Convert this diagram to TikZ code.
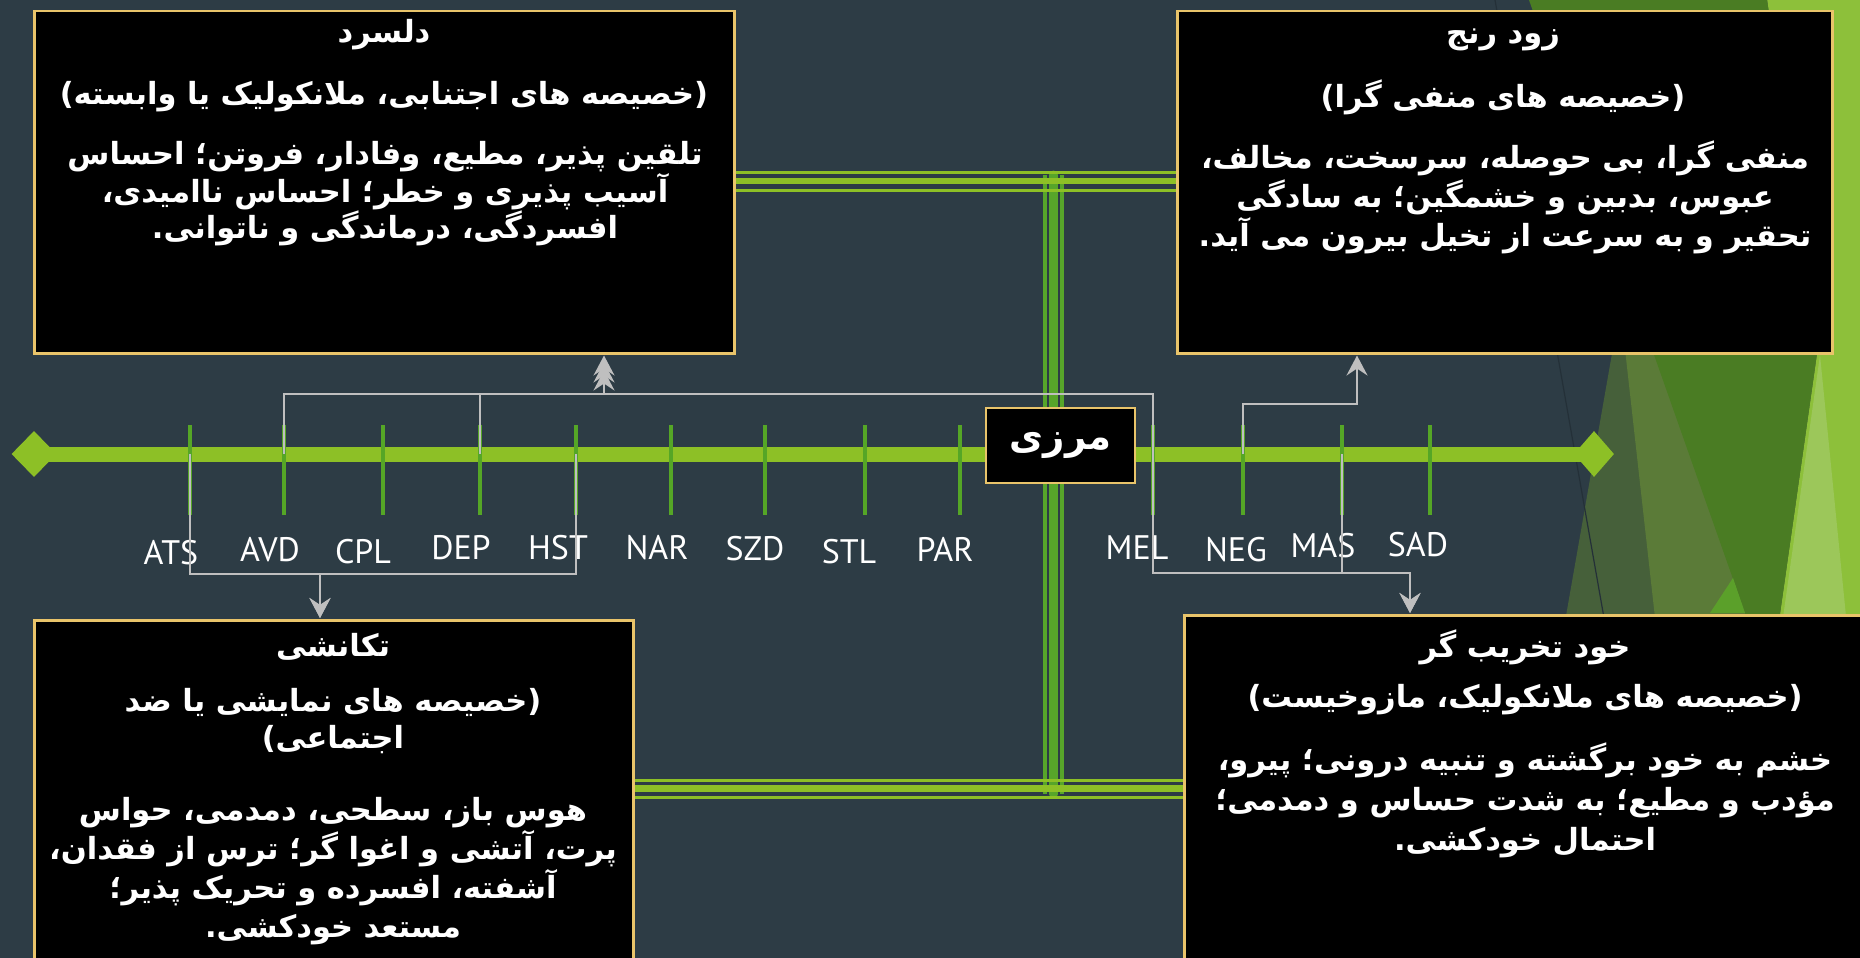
\documentclass[tikz,border=0pt]{standalone}
\usepackage{fontspec}
\TeXXeTstate=1
\newfontfamily\fa[Script=Arabic]{DejaVu Sans}
\newfontfamily\labfont{PT Sans}
\usetikzlibrary{arrows.meta,calc,shapes.geometric}
\newcommand{\myrl}[1]{\beginR #1\endR}
\definecolor{bgc}{HTML}{2D3C45}
\definecolor{axisg}{HTML}{8DC026}
\definecolor{tickg}{HTML}{55A626}
\definecolor{vertg}{HTML}{57A52A}
\definecolor{goldc}{HTML}{E9C46A}
\definecolor{conng}{HTML}{BFBFBF}
\definecolor{facDO}{HTML}{46603A}
\definecolor{facO}{HTML}{5B7B38}
\definecolor{facDG}{HTML}{4A7C23}
\definecolor{facLG}{HTML}{8DC03A}
\definecolor{facPG}{HTML}{9CC75A}
\definecolor{facBG}{HTML}{5BA02A}
\definecolor{facLine}{HTML}{243038}
\begin{document}
\begin{tikzpicture}[x=1pt,y=-1pt,
  box/.style={draw=goldc, line width=2.5pt, fill=black, inner sep=0pt, anchor=north west},
  ptxt/.style={text=white, align=center, inner sep=0pt, font=\fa\bfseries\fontsize{30.5}{37}\selectfont},
  lab/.style={text=white, inner sep=0pt, font=\labfont\fontsize{34}{40}\selectfont},
  tickline/.style={draw=tickg, line width=4pt},
  conn/.style={draw=conng, line width=2.5pt},
  arr/.style={-{Stealth[length=20pt,width=21pt,inset=7pt]}},
  thin/.style={draw=axisg, line width=3pt},
  thick/.style={draw=axisg, line width=6.5pt},
  vthin/.style={draw=vertg, line width=3.5pt},
  vthick/.style={draw=vertg, line width=9pt, line cap=round}
]
\useasboundingbox (0,0) rectangle (1860,958);
\fill[bgc] (0,0) rectangle (1860,958);
% facets
\fill[facLG] (1750,0) -- (1860,0) -- (1860,958) -- (1700,958) -- cycle;
\fill[facPG] (1820,355) -- (1735,958) -- (1880,958) -- cycle;
\fill[facDO] (1674,0) -- (1767,0) -- (1817,353) -- (1780,613) -- (1760,958) -- (1506,958) -- cycle;
\fill[facO] (1586,0) -- (1767,0) -- (1817,353) -- (1780,613) -- (1760,958) -- (1693,958) -- cycle;
\fill[facDG] (1529,0) -- (1767,0) -- (1817,353) -- (1770,684) -- cycle;
\fill[facBG] (1710,613) -- (1733,578) -- (1745,613) -- cycle;
\draw[facLine, line width=1.2pt] (1495,0) -- (1664,958);

% boxes
\node[box, minimum width=700, minimum height=342] (tl) at (33,10) {};
\node[box, minimum width=655, minimum height=342] (tr) at (1176,10) {};
\node[box, minimum width=599, minimum height=345] (bl) at (33,619) {};
\node[box, minimum width=690, minimum height=350] (br) at (1183,614) {};

% triple green connectors
\draw[vthin] (1045,175) -- (1045,794);
\draw[vthin] (1062,175) -- (1062,794);
\draw[vthick] (1053.5,175) -- (1053.5,794);
\draw[thin] (tl.east |- 0,172.5) -- (tr.west |- 0,172.5);
\draw[thick] (tl.east |- 0,181) -- (tr.west |- 0,181);
\draw[thin] (tl.east |- 0,190) -- (tr.west |- 0,190);
\draw[thin] (bl.east |- 0,780) -- (br.west |- 0,780);
\draw[thick] (bl.east |- 0,788.5) -- (br.west |- 0,788.5);
\draw[thin] (bl.east |- 0,797) -- (br.west |- 0,797);

% axis
\node[diamond, fill=axisg, minimum width=45, minimum height=46, inner sep=0pt] (ldia) at (34,454) {};
\node[diamond, fill=axisg, minimum width=40, minimum height=46, inner sep=0pt] (rdia) at (1594,454) {};
\draw[draw=axisg, line width=15pt] (ldia.center) -- (rdia.center);

% ticks
\foreach \n/\x in {ATS/190,AVD/284,CPL/383,DEP/480,HST/576,NAR/671,SZD/765,STL/865,PAR/960,MEL/1153,NEG/1243,MAS/1342,SAD/1430}{
  \coordinate (t\n) at (\x,454);
  \draw[tickline] ($(t\n)+(0,-29)$) -- ($(t\n)+(0,61)$);
}

% labels
\node[lab] (lATS) at (171,553) {ATS};
\node[lab] (lAVD) at (270,550) {AVD};
\node[lab] (lCPL) at (363,552) {CPL};
\node[lab] (lDEP) at (461,548) {DEP};
\node[lab] (lHST) at (558,548) {HST};
\node[lab] (lNAR) at (657,548) {NAR};
\node[lab] (lSZD) at (755,549) {SZD};
\node[lab] (lSTL) at (849,552) {STL};
\node[lab] (lPAR) at (945,549) {PAR};
\node[lab] (lMEL) at (1137,548) {MEL};
\node[lab] (lNEG) at (1236,550) {NEG};
\node[lab] (lMAS) at (1323,546) {MAS};
\node[lab] (lSAD) at (1418,545) {SAD};

% centre box
\node[box, anchor=center, minimum width=149, minimum height=75, text=white, font=\fa\bfseries\fontsize{37}{40}\selectfont] (mid) at (1060.5,445.5) {\myrl{مرزی}};

% grey connectors
\coordinate (jTL) at (604,394);
\coordinate (jBL) at (320,574);
\coordinate (jTR) at (1357,404);
\coordinate (jBR) at (1410,573);
\draw[conn, arr, shorten >=16pt] (tAVD) |- (jTL) -- (jTL |- tl.south);
\draw[conn, arr, shorten >=8pt] (tDEP) |- (jTL) -- (jTL |- tl.south);
\draw[conn, arr, shorten >=1pt] (tMEL) |- (jTL) -- (jTL |- tl.south);
\draw[conn, arr, shorten >=1pt] (tATS) |- (jBL) -- (jBL |- bl.north);
\draw[conn, arr, shorten >=1pt] (tHST) |- (jBL) -- (jBL |- bl.north);
\draw[conn, arr, shorten >=1pt] (tNEG) |- (jTR) -- (jTR |- tr.south);
\draw[conn, arr, shorten >=1pt] (tMEL) |- (jBR) -- (jBR |- br.north);
\draw[conn, arr, shorten >=1pt] (tMAS) |- (jBR) -- (jBR |- br.north);

% texts top-left
\node[ptxt] (tlT) at (384,35) {\myrl{دلسرد}};
\node[ptxt] (tlS) at (384,97) {\myrl{(خصیصه های اجتنابی، ملانکولیک یا وابسته)}};
\node[ptxt, font=\fa\bfseries\fontsize{30.5}{36.5}\selectfont] (tlB) at (385,194) {\myrl{تلقین پذیر، مطیع، وفادار، فروتن؛ احساس}\\\myrl{آسیب پذیری و خطر؛ احساس ناامیدی،}\\\myrl{افسردگی، درماندگی و ناتوانی.}};
% texts top-right
\node[ptxt] (trT) at (1503,40) {\myrl{زود رنج}};
\node[ptxt] (trS) at (1503,97) {\myrl{(خصیصه های منفی گرا)}};
\node[ptxt, font=\fa\bfseries\fontsize{30.5}{39}\selectfont] (trB) at (1505,197) {\myrl{منفی گرا، بی حوصله، سرسخت، مخالف،}\\\myrl{عبوس، بدبین و خشمگین؛ به سادگی}\\\myrl{تحقیر و به سرعت از تخیل بیرون می آید.}};
% texts bottom-left
\node[ptxt] (blT) at (333,647) {\myrl{تکانشی}};
\node[ptxt] (blS) at (333,721.5) {\myrl{(خصیصه های نمایشی یا ضد}\\\myrl{اجتماعی)}};
\node[ptxt, font=\fa\bfseries\fontsize{30.5}{39}\selectfont] (blB) at (333,871) {\myrl{هوس باز، سطحی، دمدمی، حواس}\\\myrl{پرت، آتشی و اغوا گر؛ ترس از فقدان،}\\\myrl{آشفته، افسرده و تحریک پذیر؛}\\\myrl{مستعد خودکشی.}};
% texts bottom-right
\node[ptxt] (brT) at (1525,647) {\myrl{خود تخریب گر}};
\node[ptxt] (brS) at (1525,700) {\myrl{(خصیصه های ملانکولیک، مازوخیست)}};
\node[ptxt, font=\fa\bfseries\fontsize{30.5}{40}\selectfont] (brB) at (1525,800) {\myrl{خشم به خود برگشته و تنبیه درونی؛ پیرو،}\\\myrl{مؤدب و مطیع؛ به شدت حساس و دمدمی؛}\\\myrl{احتمال خودکشی.}};
\end{tikzpicture}
\end{document}
